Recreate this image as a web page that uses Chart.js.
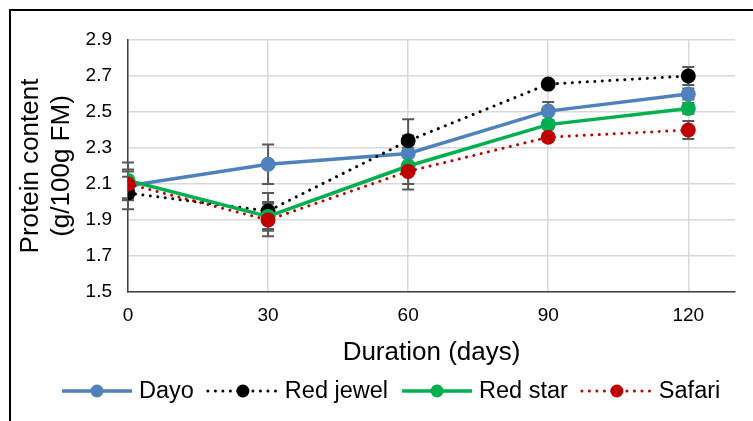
<!DOCTYPE html>
<html>
<head>
<meta charset="utf-8">
<script src="https://cdn.jsdelivr.net/npm/chart.js@4.4.1/dist/chart.umd.min.js"></script>
<style>
  html, body { margin: 0; padding: 0; background: #fff; }
  #wrap { position: relative; width: 753px; height: 421px; overflow: hidden; }
  #frame { position: absolute; left: 9px; top: 9px; width: 800px; height: 500px;
           border-left: 2px solid #000; border-top: 2px solid #000; pointer-events: none; }
</style>
</head>
<body>
<div id="wrap">
  <canvas id="chart" width="753" height="421"></canvas>
  <div id="frame"></div>
</div>
<script>
// Data
var days = [0, 30, 60, 90, 120];
var dayo = [2.09, 2.21, 2.27, 2.505, 2.60];
var redJewel = [2.05, 1.95, 2.34, 2.655, 2.70];
var redStar = [2.12, 1.92, 2.20, 2.43, 2.52];
var safari = [2.10, 1.90, 2.17, 2.36, 2.40];

// error bars (+/-)
var dayoErr = [0.08, 0.11, 0.10, 0.05, 0.03];
var redJewelErr = [0.09, 0.10, 0.12, 0.02, 0.05];
var redStarErr = [0.10, 0.08, 0.10, 0.02, 0.03];
var safariErr = [0.08, 0.09, 0.10, 0.02, 0.05];

var yTitle = ['Protein content', '(g/100g FM)'];
var xTitle = 'Duration (days)';

var FONT = '"Liberation Sans", Arial, sans-serif';

function series(label, values, errs, color, dotted, order) {
    return {
        label: label,
        data: days.map(function(d, i) { return { x: d, y: values[i] }; }),
        errors: errs,
        dotted: dotted,
        borderColor: color,
        backgroundColor: color,
        borderWidth: dotted ? 3 : 3.5,
        borderDash: dotted ? [0.01, 7.5] : [],
        borderCapStyle: dotted ? 'round' : 'butt',
        pointRadius: 7.5,
        pointHoverRadius: 7.5,
        pointBorderWidth: 0,
        pointBackgroundColor: color,
        tension: 0,
        order: order
    };
}

// error bars, drawn behind the lines and markers
var errorBars = {
    id: 'errorBars',
    beforeDatasetsDraw: function(chart) {
        var ctx = chart.ctx;
        var y = chart.scales.y;
        ctx.save();
        ctx.strokeStyle = '#595959';
        ctx.lineWidth = 2;
        chart.data.datasets.forEach(function(ds, i) {
            var meta = chart.getDatasetMeta(i);
            meta.data.forEach(function(pt, j) {
                var v = ds.data[j].y, e = ds.errors[j];
                var top = y.getPixelForValue(v + e);
                var bot = y.getPixelForValue(v - e);
                ctx.beginPath();
                ctx.moveTo(pt.x, top); ctx.lineTo(pt.x, bot);
                ctx.moveTo(pt.x - 6, top); ctx.lineTo(pt.x + 6, top);
                ctx.moveTo(pt.x - 6, bot); ctx.lineTo(pt.x + 6, bot);
                ctx.stroke();
            });
        });
        ctx.restore();
    }
};

// legend row: line sample with marker in the middle, like Excel
var legendRow = {
    id: 'legendRow',
    afterDraw: function(chart) {
        var ctx = chart.ctx;
        var x = 62, y = 391;
        var sampleW = 70;
        ctx.save();
        ctx.font = '23.5px ' + FONT;
        ctx.textBaseline = 'middle';
        chart.data.datasets.forEach(function(ds) {
            ctx.beginPath();
            ctx.strokeStyle = ds.borderColor;
            ctx.lineWidth = ds.borderWidth;
            ctx.lineCap = ds.borderCapStyle;
            ctx.setLineDash(ds.borderDash);
            ctx.moveTo(x, y); ctx.lineTo(x + sampleW, y);
            ctx.stroke();
            ctx.setLineDash([]);
            ctx.beginPath();
            ctx.fillStyle = ds.borderColor;
            ctx.arc(x + sampleW / 2, y, 6.5, 0, Math.PI * 2);
            ctx.fill();
            ctx.fillStyle = '#000';
            ctx.fillText(ds.label, x + sampleW + 7, y + 1);
            x += sampleW + 7 + ctx.measureText(ds.label).width + 14;
        });
        ctx.restore();
    }
};

var ctx = document.getElementById('chart').getContext('2d');

var chart = new Chart(ctx, {
    type: 'line',
    data: {
        datasets: [
            series('Dayo', dayo, dayoErr, '#4f81bd', false, 4),
            series('Red jewel', redJewel, redJewelErr, '#000000', true, 3),
            series('Red star', redStar, redStarErr, '#00b050', false, 2),
            series('Safari', safari, safariErr, '#c00000', true, 1)
        ]
    },
    plugins: [errorBars, legendRow],
    options: {
        responsive: false,
        devicePixelRatio: 1,
        animation: false,
        layout: { padding: { top: 40, right: 18, left: 0, bottom: 0 } },
        plugins: {
            legend: { display: false },
            tooltip: { enabled: false }
        },
        scales: {
            x: {
                type: 'linear',
                min: 0,
                max: 130,
                afterFit: function(scale) { scale.height = 129; },
                ticks: {
                    stepSize: 30,
                    includeBounds: false,
                    padding: 12,
                    color: '#000',
                    font: { family: FONT, size: 19 }
                },
                grid: { color: '#d9d9d9', lineWidth: 1.5, drawTicks: false },
                border: { color: '#404040', width: 1.5 },
                title: {
                    display: true,
                    text: xTitle,
                    color: '#000',
                    font: { family: FONT, size: 26 },
                    padding: { top: 0, bottom: 53 }
                }
            },
            y: {
                min: 1.5,
                max: 2.9,
                afterFit: function(scale) { scale.width = 128; },
                ticks: {
                    stepSize: 0.2,
                    padding: 16,
                    color: '#000',
                    font: { family: FONT, size: 19 },
                    callback: function(v) { return v.toFixed(1); }
                },
                grid: { color: '#d9d9d9', lineWidth: 1.5, drawTicks: false },
                border: { color: '#404040', width: 1.5 },
                title: {
                    display: true,
                    text: yTitle,
                    color: '#000',
                    font: { family: FONT, size: 26 },
                    padding: { top: 15, bottom: 0 }
                }
            }
        }
    }
});
</script>
</body>
</html>
